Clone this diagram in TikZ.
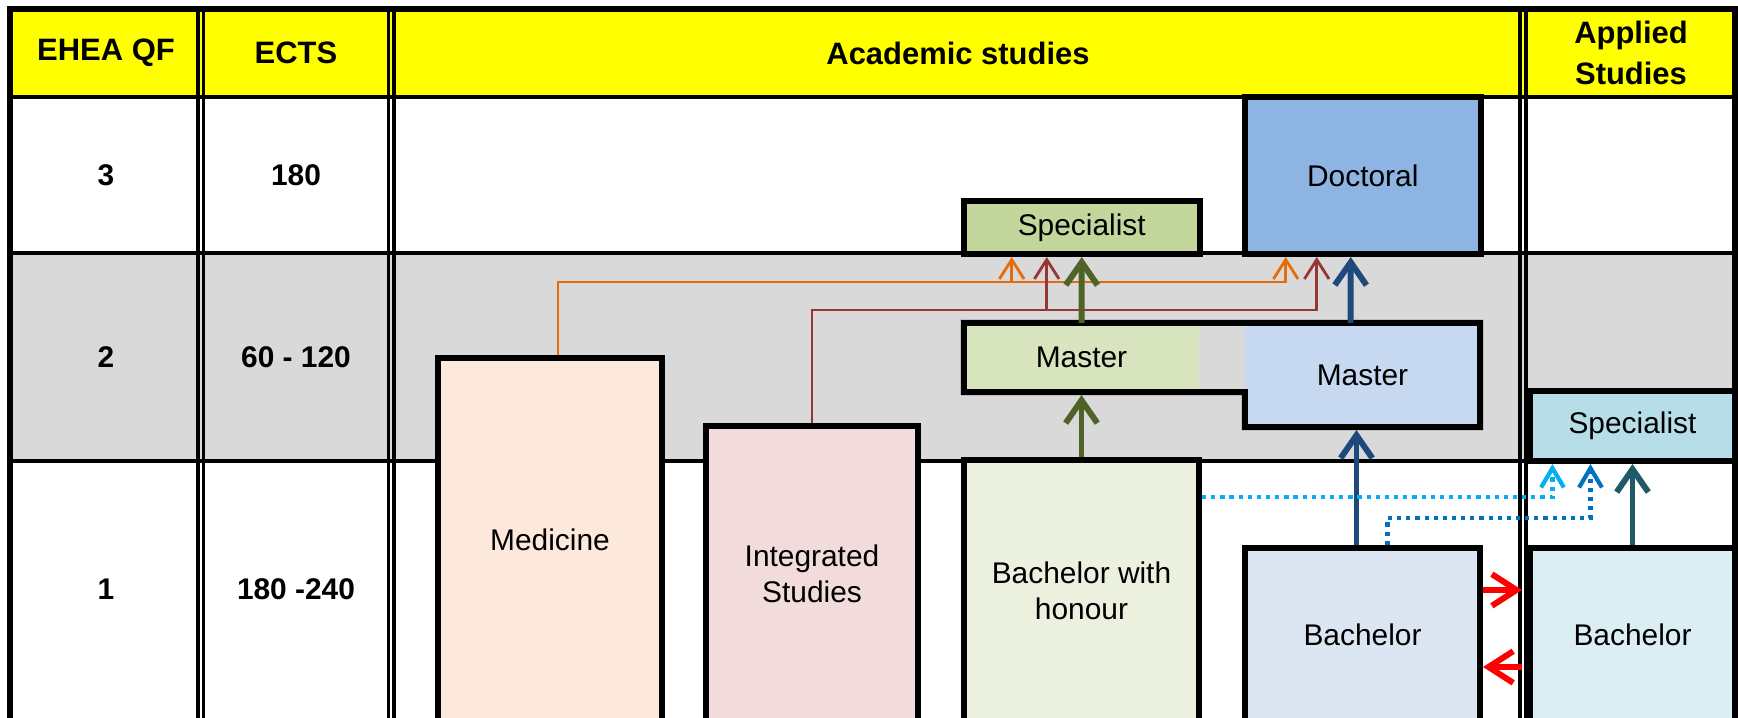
\documentclass[tikz,border=0pt]{standalone}
\usepackage{fontspec}
\setmainfont{Liberation Sans}
\usetikzlibrary{arrows.meta}

\definecolor{hdryellow}{HTML}{FFFF00}
\definecolor{rowgrey}{HTML}{D9D9D9}
\definecolor{medfill}{HTML}{FCE9DB}
\definecolor{intfill}{HTML}{F2DCDB}
\definecolor{honfill}{HTML}{EBF1DE}
\definecolor{mgfill}{HTML}{D7E4BD}
\definecolor{sgfill}{HTML}{C3D69B}
\definecolor{docfill}{HTML}{8EB4E3}
\definecolor{mbfill}{HTML}{C6D9F1}
\definecolor{bachfill}{HTML}{DCE6F2}
\definecolor{asfill}{HTML}{B7DEE8}
\definecolor{abfill}{HTML}{DBEEF4}
\definecolor{arrorange}{HTML}{E46C0A}
\definecolor{arrbrown}{HTML}{953735}
\definecolor{arrgreen}{HTML}{4F6228}
\definecolor{arrblue}{HTML}{1F497D}
\definecolor{arrteal}{HTML}{215968}
\definecolor{arrcyan}{HTML}{00B0F0}
\definecolor{arrdblue}{HTML}{0070C0}

\begin{document}
\begin{tikzpicture}[x=0.01cm,y=-0.01cm,
  box/.style={draw=black,line width=1.7pt,inner sep=2pt,align=center,font=\fontsize{8.5}{10.2}\selectfont},
  fillbox/.style={inner sep=2pt,outer sep=0pt,align=center,font=\fontsize{8.5}{10.2}\selectfont},
  hdr/.style={align=center,font=\bfseries\fontsize{8.8}{11.7}\selectfont},
  rowlbl/.style={font=\bfseries\fontsize{8.5}{10}\selectfont},
  thinarr/.style={line width=0.8pt,-{Straight Barb[length=5.5pt,width=7pt]}},
  thickarr/.style={line width=1.7pt,-{Straight Barb[length=6.5pt,width=9pt]}},
  dotarr/.style={line width=1.2pt,dash pattern=on 1.2pt off 1.4pt,-{Straight Barb[length=5.5pt,width=6.5pt]}},
  redarr/.style={line width=1.7pt,red,-{Straight Barb[length=7pt,width=9pt]}}]
\useasboundingbox (0,0) rectangle (1738,718);

% table background and rules
\fill[hdryellow] (10,9) rectangle (1735,97);
\fill[rowgrey] (10,253) rectangle (1735,461);
\draw[line width=1.1pt] (10,97) -- (1735,97);
\draw[line width=0.9pt] (10,253) -- (1735,253);
\draw[line width=0.9pt] (10,461) -- (1735,461);
\foreach \xa/\xb in {198/203.5,388.5/394,1520/1526}{
  \draw[line width=1pt] (\xa,9) -- (\xa,730);
  \draw[line width=1pt] (\xb,9) -- (\xb,730);
}
\draw[line width=1.7pt] (10,730) -- (10,9) -- (1735,9) -- (1735,730);

% headers
\node[hdr] (hq) at (106,53) {EHEA QF};
\node[hdr] (he) at (296,53) {ECTS};
\node[hdr] (hacad) at (958,53) {Academic studies};
\node[hdr] (happ) at (1631,53) {Applied\\Studies};
\foreach \q/\e/\y in {3/180/175,2/60 - 120/357,1/180 -240/589}{
  \node[rowlbl] (q\q) at (106,\y) {\q};
  \node[rowlbl] (e\q) at (296,\y) {\e};
}

% study boxes
\node[box,fill=medfill,minimum width=2.24cm,minimum height=3.64cm] (med) at (550,540) {Medicine};
\node[box,fill=intfill,minimum width=2.12cm,minimum height=2.96cm] (intg) at (812,574) {Integrated\\Studies};
\node[box,fill=honfill,minimum width=2.35cm,minimum height=2.62cm] (bhon) at (1081.5,591) {Bachelor with\\honour};
\node[box,fill=bachfill,minimum width=2.35cm,minimum height=1.74cm] (bach) at (1362.5,635) {Bachelor};
\node[box,fill=abfill,minimum width=2.05cm,minimum height=1.74cm] (abach) at (1632.5,635) {Bachelor};
\node[box,fill=asfill,minimum width=2.05cm,minimum height=0.70cm] (aspec) at (1632.5,426) {Specialist};
\node[box,fill=sgfill,minimum width=2.355cm,minimum height=0.525cm] (specg) at (1081.75,227.75) {Specialist};
\node[box,fill=docfill,minimum width=2.355cm,minimum height=1.57cm] (doc) at (1362.75,175.5) {Doctoral};
\node[fillbox,fill=mgfill,minimum width=2.35cm,minimum height=0.69cm] (mastg) at (1081.5,357.5) {Master};
\node[fillbox,fill=mbfill,minimum width=2.35cm,minimum height=1.04cm] (mastb) at (1362.5,375) {Master};
\draw[line width=1.7pt] (mastg.north west) -- (mastb.north east) -- (mastb.south east) -- (mastb.south west)
  -- (mastb.south west |- mastg.south) -- (mastg.south west) -- cycle;

% progression
\draw[thinarr,arrorange] ([xshift=0.08cm]med.north) -- ++(0,-73) -| ([xshift=-0.77cm]doc.south);
\draw[thinarr,arrorange] ([xshift=-0.70cm,yshift=-0.25cm]specg.south) -- ([xshift=-0.70cm]specg.south);
\draw[thinarr,arrbrown] (intg.north) -- ++(0,-113) -| ([xshift=-0.46cm]doc.south);
\draw[thinarr,arrbrown] ([xshift=-0.35cm,yshift=-0.53cm]specg.south) -- ([xshift=-0.35cm]specg.south);
\draw[thickarr,arrgreen] (mastg.north) -- (specg.south);
\draw[thickarr,arrgreen,shorten >=0.85pt] (bhon.north) -- (mastg.south);
\draw[thickarr,arrblue] ([xshift=-0.12cm]mastb.north) -- ([xshift=-0.12cm]doc.south);
\draw[thickarr,arrblue,shorten >=0.85pt] ([xshift=-0.06cm]bach.north) -- ([xshift=-0.06cm]mastb.south);
\draw[dotarr,arrcyan] ([yshift=0.94cm]bhon.east) -| ([xshift=-0.80cm]aspec.south);
\draw[dotarr,arrdblue] ([xshift=0.25cm]bach.north) -- ++(0,-27) -| ([xshift=-0.42cm]aspec.south);
\draw[thickarr,arrteal] (abach.north) -- (aspec.south);
\draw[redarr,shorten >=1.4pt] ([yshift=0.45cm]bach.east) -- ([yshift=0.45cm]abach.west);
\draw[redarr,shorten <=1.4pt] ([yshift=-0.32cm]abach.west) -- ([yshift=-0.32cm]bach.east);
\end{tikzpicture}
\end{document}
